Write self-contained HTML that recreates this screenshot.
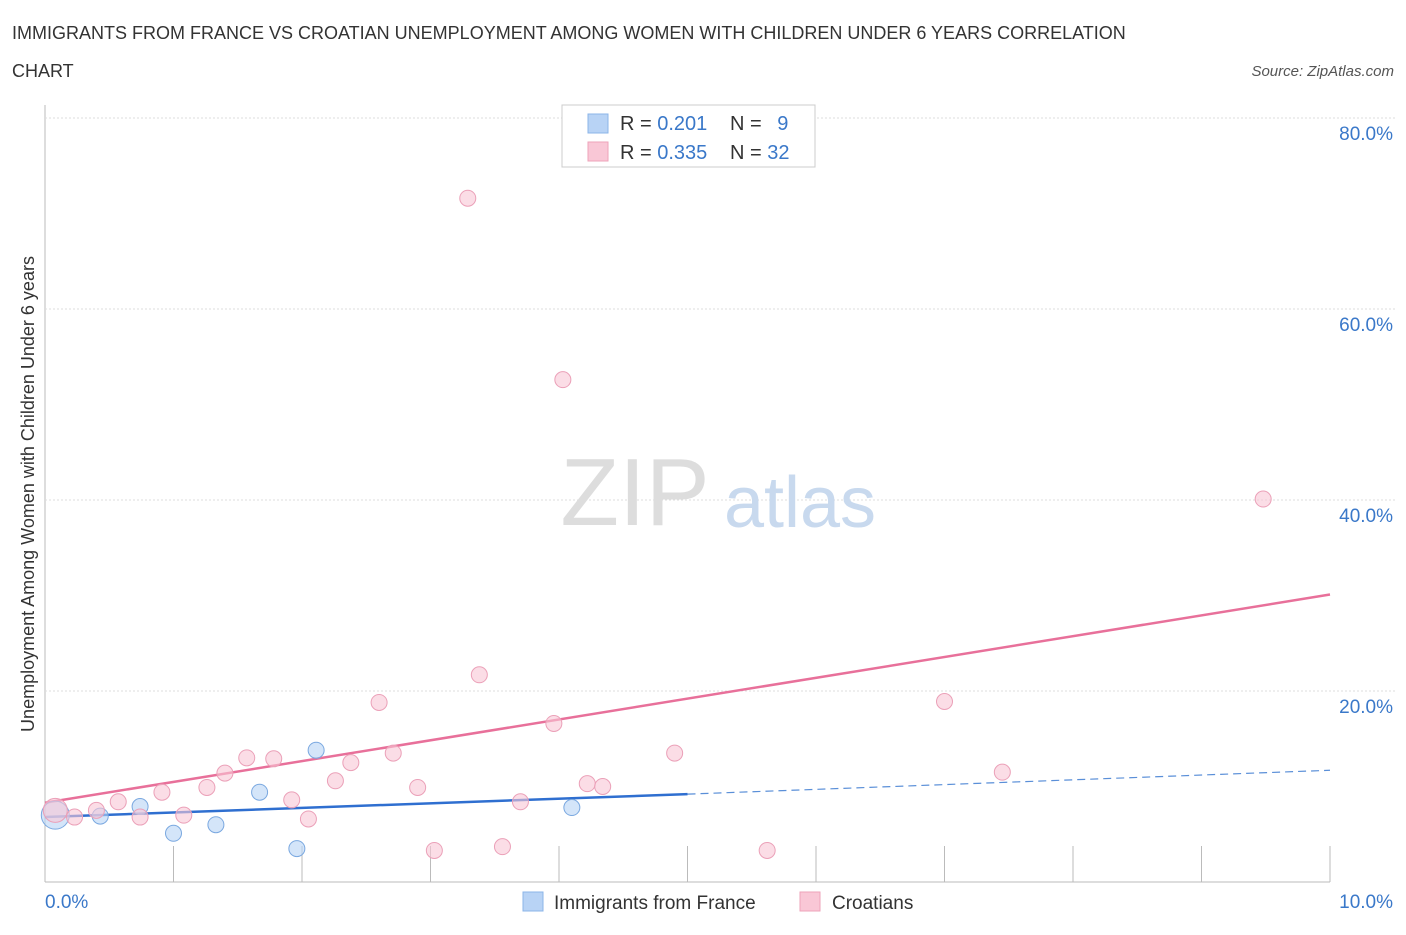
<!DOCTYPE html>
<html><head><meta charset="utf-8"><style>
body{margin:0;background:#fff;font-family:"Liberation Sans",sans-serif;}
svg text{font-family:"Liberation Sans",sans-serif;}
</style></head><body>
<svg id="chart" width="1406" height="930" xmlns="http://www.w3.org/2000/svg">
<text x="12" y="39" font-size="18" fill="#333">IMMIGRANTS FROM FRANCE VS CROATIAN UNEMPLOYMENT AMONG WOMEN WITH CHILDREN UNDER 6 YEARS CORRELATION</text>
<text x="12" y="77" font-size="18" fill="#333">CHART</text>
<text x="1394" y="76" font-size="15" fill="#555" text-anchor="end" font-style="italic">Source: ZipAtlas.com</text>
<g id="grid"></g>
<g><text x="635" y="525" font-size="96" fill="#ddd" text-anchor="middle" font-family="Liberation Serif">ZIP</text><text x="800" y="527" font-size="72" fill="#c8d9ee" text-anchor="middle">atlas</text></g>
<text transform="translate(34,494) rotate(-90)" font-size="18" fill="#333" text-anchor="middle">Unemployment Among Women with Children Under 6 years</text>
<g id="lines"></g>
<g id="points"></g>
<g>
<rect x="562" y="105" width="253" height="62" fill="#fff" stroke="#ccc"/>
<rect x="588" y="114" width="20" height="19" fill="#b8d3f5" stroke="#8bb4e8"/>
<rect x="588" y="142" width="20" height="19" fill="#f9c7d6" stroke="#eea3ba"/>
<text x="620" y="130" font-size="20" fill="#333">R = <tspan fill="#3a78c9">0.201</tspan></text>
<text x="730" y="130" font-size="20" fill="#333">N = <tspan fill="#3a78c9" dx="10">9</tspan></text>
<text x="620" y="159" font-size="20" fill="#333">R = <tspan fill="#3a78c9">0.335</tspan></text>
<text x="730" y="159" font-size="20" fill="#333">N = <tspan fill="#3a78c9">32</tspan></text>
</g>
<g>
<rect x="523" y="892" width="20" height="19" fill="#b8d3f5" stroke="#8bb4e8"/>
<text x="554" y="909" font-size="19" fill="#333">Immigrants from France</text>
<rect x="800" y="892" width="20" height="19" fill="#f9c7d6" stroke="#eea3ba"/>
<text x="832" y="909" font-size="19" fill="#333">Croatians</text>
</g>
</svg>
<script>
const yTicks=[20,40,60,80];
const yTickLabels=["20.0%","40.0%","60.0%","80.0%"];
const xTickLabels=["0.0%","10.0%"];
const croX=[0.08,0.23,0.4,0.57,0.74,0.91,1.08,1.26,1.4,1.57,1.78,1.92,2.05,2.26,2.38,2.6,2.71,2.9,3.03,3.29,3.38,3.56,3.7,3.96,4.03,4.22,4.34,4.9,5.62,7.0,7.45,9.48];
const croY=[7.5,6.8,7.5,8.4,6.8,9.4,7.0,9.9,11.4,13.0,12.9,8.6,6.6,10.6,12.5,18.8,13.5,9.9,3.3,71.6,21.7,3.7,8.4,16.6,52.6,10.3,10.0,13.5,3.3,18.9,11.5,40.1];
const fraX=[0.08,0.43,0.74,1.0,1.33,1.67,1.96,2.11,4.1];
const fraY=[7.0,6.9,7.9,5.1,6.0,9.4,3.5,13.8,7.8];
const croTrend=[[0,8.3],[10,30.1]];
const fraTrend=[[0,6.8],[5,9.2],[10,11.7]];
const X=v=>45+v*128.5, Y=v=>882-v*9.55;
const ns="http://www.w3.org/2000/svg";
function mk(t,a,p){const e=document.createElementNS(ns,t);for(const k in a)e.setAttribute(k,a[k]);p.appendChild(e);return e;}
const g=document.getElementById('grid');
mk('line',{x1:45,y1:105,x2:45,y2:882,stroke:'#bbb'},g);
mk('line',{x1:45,y1:882,x2:1330,y2:882,stroke:'#bbb'},g);
for(let i=1;i<=10;i++){const t=mk('line',{x1:45+i*128.5,y1:846,x2:45+i*128.5,y2:882,stroke:'#bbb'},g);}
yTicks.forEach((v,i)=>{const l=mk('line',{x1:45,y1:Y(v),x2:1395,y2:Y(v),stroke:'#ddd','stroke-dasharray':'2,2'},g);

const t=mk('text',{x:1393,y:Y(v)+22,'font-size':19,fill:'#3a78c9','text-anchor':'end'},g);t.textContent=yTickLabels[i];
});
[[0,45,'start'],[1,1393,'end']].forEach(([i,x,a])=>{const t=mk('text',{x:x,y:908,'font-size':19,fill:'#3a78c9','text-anchor':a},g);t.textContent=xTickLabels[i];
});
const L=document.getElementById('lines');
let l=mk('line',{x1:X(croTrend[0][0]),y1:Y(croTrend[0][1]),x2:X(croTrend[1][0]),y2:Y(croTrend[1][1]),stroke:'#e8709a','stroke-width':2.5},L);

l=mk('line',{x1:X(fraTrend[0][0]),y1:Y(fraTrend[0][1]),x2:X(fraTrend[1][0]),y2:Y(fraTrend[1][1]),stroke:'#2f6fd0','stroke-width':2.5},L);

l=mk('line',{x1:X(fraTrend[1][0]),y1:Y(fraTrend[1][1]),x2:X(fraTrend[2][0]),y2:Y(fraTrend[2][1]),stroke:'#5a8fd8','stroke-width':1.2,'stroke-dasharray':'8,5'},L);

const P=document.getElementById('points');
fraX.forEach((x,i)=>{const c=mk('circle',{cx:X(x),cy:Y(fraY[i]),r:i==0?14:8,fill:'rgba(184,211,245,0.6)',stroke:'#7aa8e0','stroke-width':1},P);
});
croX.forEach((x,i)=>{const c=mk('circle',{cx:X(x),cy:Y(croY[i]),r:i==0?12:8,fill:'rgba(249,199,214,0.6)',stroke:'#eba0b8','stroke-width':1},P);
});
</script>
</body></html>
